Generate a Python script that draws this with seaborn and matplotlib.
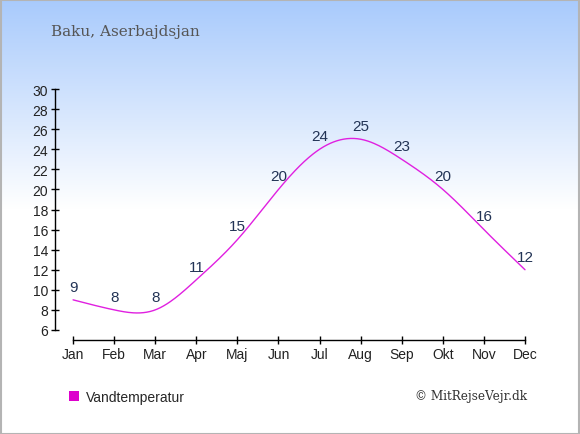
import numpy as np
import pandas as pd
import matplotlib
matplotlib.use("Agg")
import matplotlib.pyplot as plt
from matplotlib.patches import Rectangle, Patch
import seaborn as sns

months = ["Jan", "Feb", "Mar", "Apr", "Maj", "Jun", "Jul", "Aug", "Sep", "Okt", "Nov", "Dec"]
water_temp = [9, 8, 8, 11, 15, 20, 24, 25, 23, 20, 16, 12]
y_ticks = list(range(6, 31, 2))
title = "Baku, Aserbajdsjan"
series_name = "Vandtemperatur"
credit = "\u00a9 MitRejseVejr.dk"


def natural_spline(x, y, n=400):
    x = np.asarray(x, float)
    y = np.asarray(y, float)
    k = len(x)
    h = np.diff(x)
    A = np.zeros((k, k))
    b = np.zeros(k)
    A[0, 0] = 1
    A[-1, -1] = 1
    for i in range(1, k - 1):
        A[i, i - 1] = h[i - 1]
        A[i, i] = 2 * (h[i - 1] + h[i])
        A[i, i + 1] = h[i]
        b[i] = 3 * ((y[i + 1] - y[i]) / h[i] - (y[i] - y[i - 1]) / h[i - 1])
    c = np.linalg.solve(A, b)
    bb = np.zeros(k - 1)
    d = np.zeros(k - 1)
    for i in range(k - 1):
        bb[i] = (y[i + 1] - y[i]) / h[i] - h[i] * (2 * c[i] + c[i + 1]) / 3
        d[i] = (c[i + 1] - c[i]) / (3 * h[i])
    xs = np.linspace(x[0], x[-1], n)
    idx = np.clip(np.searchsorted(x, xs, side="right") - 1, 0, k - 2)
    dx = xs - x[idx]
    ys = y[idx] + bb[idx] * dx + c[idx] * dx ** 2 + d[idx] * dx ** 3
    return xs, ys


W, H = 580, 435
fig = plt.figure(figsize=(W / 100, H / 100), dpi=100)
sns.set_style("white")
plt.rcParams["font.family"] = ["Liberation Sans", "DejaVu Sans"]

# background gradient
bg = fig.add_axes([0, 0, 1, 1], zorder=0)
bg.set_axis_off()
rows = np.linspace(0, 1, H)
t = np.clip(rows / 210 * H, 0, 1)[:, None]
top = np.array([168, 202, 252]) / 255.0
white = np.array([1.0, 1.0, 1.0])
grad = top[None, :] * (1 - t) + white[None, :] * t
img = np.repeat(grad[:, None, :], 2, axis=1)
bg.imshow(img, aspect="auto", extent=[0, 1, 0, 1], origin="upper")
bg.set_xlim(0, 1)
bg.set_ylim(0, 1)
bg.add_patch(Rectangle((0.5 / W, 0.5 / H), 1 - 1.5 / W, 1 - 1.5 / H, fill=False,
                       edgecolor="#b4b4b4", linewidth=1.5, transform=bg.transAxes))

# main axes
left_px, right_px, bottom_px, top_px = 55, 540, 341, 85
ax = fig.add_axes([left_px / W, 1 - bottom_px / H, (right_px - left_px) / W, (bottom_px - top_px) / H], zorder=1)
ax.set_facecolor("none")

x_idx = np.arange(len(months))
xs, ys = natural_spline(x_idx, water_temp)
df = pd.DataFrame({"x": xs, "y": ys})
sns.lineplot(data=df, x="x", y="y", ax=ax, color="#e020e0", linewidth=1.0, sort=False)

for xi, v in zip(x_idx, water_temp):
    ax.annotate(str(v), (xi, v), xytext=(0, 9.5), textcoords="offset points",
                ha="center", va="center", fontsize=11, color="#223355")

ax.set_xlim(-0.44, (right_px - 73) / 41.09)
ax.set_ylim(5, 6 + (331 - top_px) / 10.04)
ax.set_xticks(x_idx)
ax.set_xticklabels(months)
ax.set_yticks(y_ticks)
ax.set_yticklabels([str(v) for v in y_ticks])
ax.set_xlabel("")
ax.set_ylabel("")
for s in ["top", "right"]:
    ax.spines[s].set_visible(False)
ax.spines["left"].set_bounds(6, 30)
ax.spines["bottom"].set_bounds(0, 11)
for s in ["left", "bottom"]:
    ax.spines[s].set_color("black")
    ax.spines[s].set_linewidth(1.0)
ax.tick_params(axis="both", which="major", bottom=True, left=True, direction="inout",
               length=6, width=1.0, colors="black", labelsize=10, labelcolor="#222222")
ax.tick_params(axis="x", pad=2)
ax.tick_params(axis="y", pad=2)

fig.text(51 / W, 1 - 32 / H, title, fontsize=11, color="#555555",
         family=["DejaVu Serif"], ha="left", va="center")

fig.legend(handles=[Patch(facecolor="#dd00cc", edgecolor="none", label=series_name)],
           loc="center left", bbox_to_anchor=(69 / W, 1 - 398 / H), frameon=False,
           handlelength=0.7, handleheight=0.7, handletextpad=0.5, fontsize=10,
           borderaxespad=0, borderpad=0)

fig.text(527 / W, 1 - 397 / H, credit, fontsize=8.7, color="#333333",
         family=["DejaVu Serif"], ha="right", va="center")

fig.savefig("out.png", dpi=100)
